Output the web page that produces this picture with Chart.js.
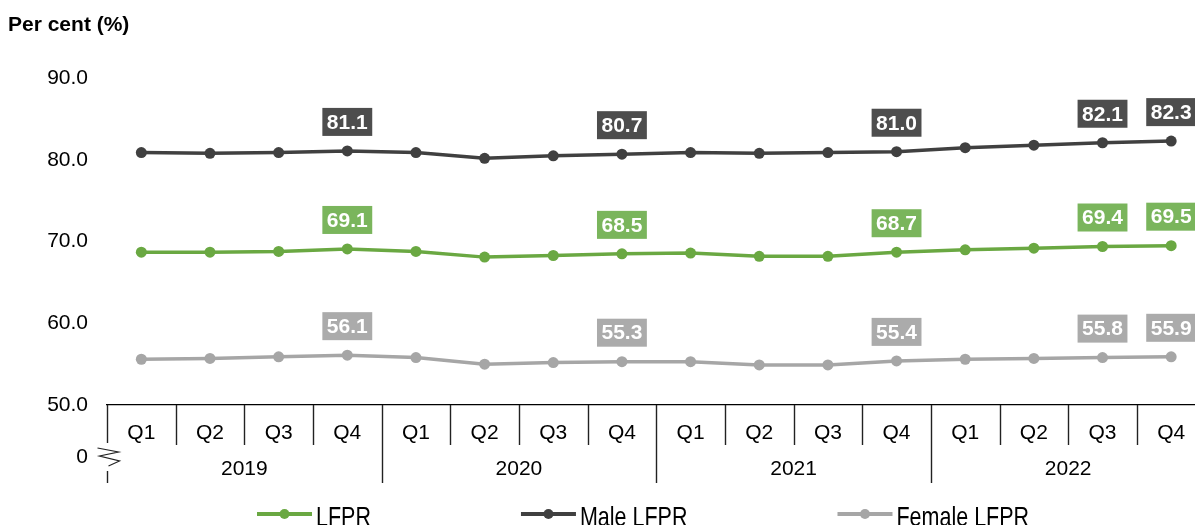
<!DOCTYPE html>
<html>
<head>
<meta charset="utf-8">
<script src="https://cdn.jsdelivr.net/npm/chart.js@4.4.1/dist/chart.umd.min.js"></script>
<style>
  html, body { margin: 0; padding: 0; background: #fff; overflow: hidden; }
  #wrap { width: 1211px; height: 525px; }
</style>
</head>
<body>
<div id="wrap"><canvas id="lfprChart"></canvas></div>
<script>
// Labour force participation rate, quarterly 2019-2022
const years = ['2019', '2020', '2021', '2022'];
const quarters = ['Q1', 'Q2', 'Q3', 'Q4'];
const categories = years.flatMap(() => quarters);

const lfpr = [68.7, 68.7, 68.8, 69.1, 68.8, 68.1, 68.3, 68.5, 68.6, 68.2, 68.2, 68.7, 69.0, 69.2, 69.4, 69.5];
const maleLfpr = [80.9, 80.8, 80.9, 81.1, 80.9, 80.2, 80.5, 80.7, 80.9, 80.8, 80.9, 81.0, 81.5, 81.8, 82.1, 82.3];
const femaleLfpr = [55.6, 55.7, 55.9, 56.1, 55.8, 55.0, 55.2, 55.3, 55.3, 54.9, 54.9, 55.4, 55.6, 55.7, 55.8, 55.9];

const yTicks = [50, 60, 70, 80, 90];
const labelledPoints = [3, 7, 11, 14, 15];

const FONT = "'Liberation Sans', Arial, sans-serif";

const series = [
  { label: 'LFPR', data: lfpr, line: '#6aa842', box: '#7ab55c' },
  { label: 'Male LFPR', data: maleLfpr, line: '#404040', box: '#4d4d4d' },
  { label: 'Female LFPR', data: femaleLfpr, line: '#a6a6a6', box: '#ababab' }
];

// value boxes above selected points
const valueBoxes = {
  id: 'valueBoxes',
  afterDatasetsDraw(chart) {
    const ctx = chart.ctx;
    ctx.save();
    ctx.font = 'bold 21px ' + FONT;
    ctx.textAlign = 'center';
    ctx.textBaseline = 'middle';
    chart.data.datasets.forEach((ds, di) => {
      const meta = chart.getDatasetMeta(di);
      labelledPoints.forEach(i => {
        const pt = meta.data[i];
        const text = ds.data[i].toFixed(1);
        const w = ctx.measureText(text).width + 9;
        const h = 28;
        const cy = pt.y - 29;
        ctx.fillStyle = series[di].box;
        ctx.fillRect(pt.x - w / 2, cy - h / 2, w, h);
        ctx.fillStyle = '#fff';
        ctx.fillText(text, pt.x, cy + 1);
      });
    });
    ctx.restore();
  }
};

// quarter / year separators, year labels, axis break, legend
const axisExtras = {
  id: 'axisExtras',
  afterDraw(chart) {
    const ctx = chart.ctx;
    const x = chart.scales.x;
    const area = chart.chartArea;
    const base = area.bottom;
    const n = categories.length;
    ctx.save();
    ctx.strokeStyle = '#222';
    ctx.lineWidth = 1.4;

    const edge = i => {
      if (i === 0) return area.left;
      if (i === n) return area.right;
      return (x.getPixelForValue(i - 1) + x.getPixelForValue(i)) / 2;
    };

    for (let i = 1; i <= n; i++) {
      const bx = Math.round(edge(i)) + 0.5;
      const len = i % 4 === 0 ? 78 : 40;
      ctx.beginPath();
      ctx.moveTo(bx, base);
      ctx.lineTo(bx, base + len);
      ctx.stroke();
    }

    // left edge with axis break
    const lx = Math.round(area.left) + 0.5;
    ctx.beginPath();
    ctx.moveTo(lx, base);
    ctx.lineTo(lx, base + 38);
    ctx.stroke();
    ctx.lineWidth = 1.2;
    ctx.beginPath();
    ctx.moveTo(lx - 10, base + 43);
    ctx.lineTo(lx + 11, base + 47);
    ctx.lineTo(lx - 8, base + 51);
    ctx.lineTo(lx + 12, base + 56);
    ctx.lineTo(lx + 1, base + 61);
    ctx.stroke();
    ctx.lineWidth = 1.4;
    ctx.beginPath();
    ctx.moveTo(lx, base + 66);
    ctx.lineTo(lx, base + 78);
    ctx.stroke();

    ctx.fillStyle = '#000';
    ctx.font = '21px ' + FONT;
    ctx.textBaseline = 'middle';
    ctx.textAlign = 'right';
    ctx.fillText('0', area.left - 19, base + 52);

    ctx.textAlign = 'center';
    years.forEach((yr, k) => {
      const cx = (x.getPixelForValue(k * 4) + x.getPixelForValue(k * 4 + 3)) / 2;
      ctx.fillText(yr, cx, base + 64);
    });

    // legend (text is drawn a little stretched vertically, as in the source)
    let lx2 = area.left + 150;
    const ly = 514;
    const stretch = 1.3;
    ctx.font = '21.5px ' + FONT;
    ctx.textAlign = 'left';
    ctx.textBaseline = 'alphabetic';
    series.forEach(s => {
      ctx.strokeStyle = s.line;
      ctx.lineWidth = 4;
      ctx.beginPath();
      ctx.moveTo(lx2, ly);
      ctx.lineTo(lx2 + 55, ly);
      ctx.stroke();
      ctx.fillStyle = s.line;
      ctx.beginPath();
      ctx.arc(lx2 + 27.5, ly, 5, 0, Math.PI * 2);
      ctx.fill();
      ctx.fillStyle = '#000';
      ctx.save();
      ctx.scale(1, stretch);
      ctx.fillText(s.label, lx2 + 59, 526 / stretch);
      ctx.restore();
      lx2 += 59 + ctx.measureText(s.label).width + 150;
    });
    ctx.restore();
  }
};

new Chart(document.getElementById('lfprChart'), {
  type: 'line',
  data: {
    labels: categories,
    datasets: series.map(s => ({
      label: s.label,
      data: s.data,
      borderColor: s.line,
      backgroundColor: s.line,
      borderWidth: 3.5,
      pointRadius: 5.5,
      pointBackgroundColor: s.line,
      pointBorderWidth: 0,
      tension: 0
    }))
  },
  options: {
    responsive: true,
    maintainAspectRatio: false,
    animation: false,
    layout: { padding: { left: 8, right: 0, top: 0, bottom: 0 } },
    plugins: {
      legend: { display: false },
      tooltip: { enabled: false },
      title: {
        display: true,
        text: 'Per cent (%)',
        align: 'start',
        color: '#000',
        font: { family: FONT, size: 21, weight: 'bold' },
        padding: { top: 13, bottom: 40 }
      }
    },
    scales: {
      x: {
        offset: true,
        grid: { display: false },
        border: { display: true, color: '#000', width: 1.3 },
        ticks: {
          color: '#000',
          font: { family: FONT, size: 21 },
          padding: 8,
          autoSkip: false,
          maxRotation: 0
        },
        afterFit(scale) { scale.height = 120; }
      },
      y: {
        min: yTicks[0],
        max: yTicks[yTicks.length - 1],
        grid: { display: false },
        border: { display: false },
        afterBuildTicks(scale) { scale.ticks = yTicks.map(v => ({ value: v })); },
        ticks: {
          color: '#000',
          font: { family: FONT, size: 21 },
          padding: 11,
          callback: v => v.toFixed(1)
        },
        afterFit(scale) { scale.width = 99; }
      }
    }
  },
  plugins: [valueBoxes, axisExtras]
});
</script>
</body>
</html>
